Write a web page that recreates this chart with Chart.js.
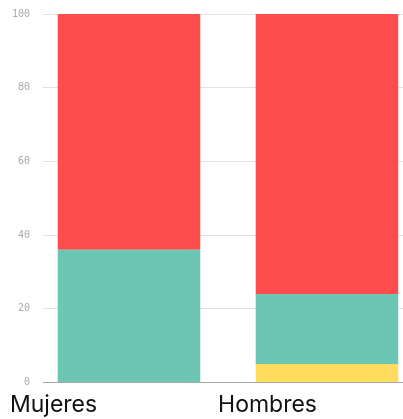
<!DOCTYPE html>
<html>
<head>
<meta charset="utf-8">
<script src="https://cdn.jsdelivr.net/npm/chart.js@4"></script>
<style>
    html, body { margin: 0; padding: 0; background: #fff; }
    #wrap { width: 403px; height: 419px; }
</style>
</head>
<body>
<div id="wrap"><canvas id="genderChart"></canvas></div>
<script>
    const categories = ['Mujeres', 'Hombres'];
    const yellowValues = [0, 5];
    const tealValues = [36, 19];
    const redValues = [64, 76];
    const yTicks = [0, 20, 40, 60, 80, 100];

    // x is linear so the bars can sit off-centre like in the original
    const toPoints = values => values.map((v, i) => ({ x: i, y: v }));
    const labelAnchors = [-0.399, 0.652];

    document.addEventListener("DOMContentLoaded", function () {
        const ctx = document.getElementById('genderChart').getContext('2d');
        new Chart(ctx, {
            type: 'bar',
            data: {
                datasets: [{
                    label: 'Amarillo',
                    data: toPoints(yellowValues),
                    backgroundColor: '#ffdc5e'
                }, {
                    label: 'Verde',
                    data: toPoints(tealValues),
                    backgroundColor: '#6dc6b4'
                }, {
                    label: 'Rojo',
                    data: toPoints(redValues),
                    backgroundColor: '#ff4c4c'
                }]
            },
            options: {
                responsive: true,
                maintainAspectRatio: false,
                animation: false,
                layout: { padding: { top: 14, left: 12, right: 0, bottom: -9 } },
                datasets: { bar: { barPercentage: 0.8, categoryPercentage: 0.9 } },
                plugins: {
                    legend: { display: false },
                    tooltip: { enabled: false }
                },
                scales: {
                    x: {
                        type: 'linear',
                        stacked: true,
                        offset: false,
                        min: -0.434,
                        max: 1.384,
                        afterBuildTicks: axis => {
                            axis.ticks = labelAnchors.map(v => ({ value: v }));
                        },
                        grid: { display: false, drawTicks: false, offset: false },
                        border: { display: true, color: '#a8a8a8' },
                        ticks: {
                            autoSkip: false,
                            maxRotation: 0,
                            align: 'start',
                            labelOffset: -40,
                            padding: 9,
                            color: '#111',
                            font: { family: 'Inter', size: 23 },
                            callback: (value, index) => categories[index]
                        }
                    },
                    y: {
                        stacked: true,
                        min: 0,
                        max: 100,
                        afterBuildTicks: axis => {
                            axis.ticks = yTicks.map(v => ({ value: v }));
                        },
                        border: { display: false },
                        grid: { color: '#e2e2e2', tickLength: 13, tickColor: 'rgba(0,0,0,0)' },
                        ticks: {
                            padding: 0,
                            color: '#aaa',
                            font: { family: 'DejaVu Sans Mono', size: 10 }
                        }
                    }
                }
            }
        });
    });
</script>
</body>
</html>
